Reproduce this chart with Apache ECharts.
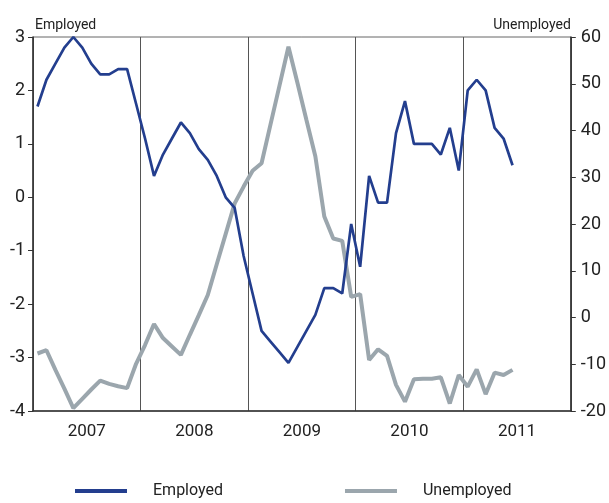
<!DOCTYPE html>
<html>
<head>
<meta charset="utf-8">
<script src="https://cdn.jsdelivr.net/npm/echarts@6/dist/echarts.min.js"></script>
<style>
  html, body { margin: 0; padding: 0; background: #fff; }
  #chart { width: 609px; height: 503px; }
</style>
</head>
<body>
<div id="chart"></div>
<script>
// Monthly change, January 2007 onwards (left axis: employed, right axis: unemployed)
const years = ['2007', '2008', '2009', '2010', '2011'];

const employed = [
  1.7, 2.2, 2.5, 2.8, 3.0, 2.8, 2.5, 2.3, 2.3, 2.4, 2.4, 1.75,
  1.1, 0.4, 0.8, 1.1, 1.4, 1.2, 0.9, 0.7, 0.4, 0.0, -0.2, -1.1,
  -1.8, -2.5, -2.7, -2.9, -3.1, -2.8, -2.5, -2.2, -1.7, -1.7, -1.8, -0.5,
  -1.3, 0.4, -0.1, -0.1, 1.2, 1.8, 1.0, 1.0, 1.0, 0.8, 1.3, 0.5,
  2.0, 2.2, 2.0, 1.3, 1.1, 0.6
];

const unemployed = [
  -7.7, -7.0, -11.2, -15.2, -19.4, -17.4, -15.4, -13.5, -14.2, -14.7, -15.1, -9.9,
  -5.9, -1.4, -4.4, -6.2, -8.0, -3.7, 0.5, 4.8, 11.4, 17.9, 24.4, 28.0,
  31.4, 33.0, 41.3, 49.6, 57.9, 50.2, 42.3, 34.5, 21.6, 16.9, 16.4, 4.4,
  5.0, -9.1, -6.8, -8.2, -14.4, -18.0, -13.2, -13.1, -13.1, -12.8, -18.4, -12.3,
  -14.8, -11.1, -16.4, -11.8, -12.3, -11.2
];

// One category per month across the five years
const months = [];
years.forEach(y => {
  for (let m = 1; m <= 12; m++) months.push(y + '-' + String(m).padStart(2, '0'));
});

const FONT = "Roboto, 'Liberation Sans', sans-serif";
const BLUE = '#233e8e';
const GREY = '#9ba6ad';
const INK = '#222';

const chart = echarts.init(document.getElementById('chart'), null, { renderer: 'canvas' });

chart.setOption({
  animation: false,
  backgroundColor: '#fff',
  grid: {
    left: 33, right: 35, top: 37, bottom: 92,
    show: true, borderColor: '#666', borderWidth: 1
  },
  legend: {
    left: 75, top: 483,
    padding: 0,
    itemGap: 122,
    itemWidth: 52, itemHeight: 4,
    icon: 'rect',
    textStyle: { fontFamily: FONT, fontSize: 16, color: INK, padding: [0, 0, 0, 21] },
    data: ['Employed', 'Unemployed']
  },
  xAxis: [
    {
      type: 'category',
      data: months,
      boundaryGap: true,
      show: false
    },
    {
      type: 'category',
      data: years,
      boundaryGap: true,
      position: 'bottom',
      axisLine: { show: true, onZero: false, lineStyle: { color: '#333', width: 1.5 } },
      axisTick: { show: false },
      axisLabel: { fontFamily: FONT, fontSize: 17, color: INK, margin: 12 },
      splitLine: { show: true, interval: 0, lineStyle: { color: '#555', width: 1 } }
    }
  ],
  yAxis: [
    {
      type: 'value',
      min: -4, max: 3, interval: 1,
      name: 'Employed',
      nameLocation: 'end',
      nameGap: 5,
      nameTextStyle: { fontFamily: FONT, fontSize: 14, color: INK, align: 'left', padding: [0, 0, 0, 2] },
      axisLine: { show: true, onZero: false, lineStyle: { color: '#333', width: 1.5 } },
      axisTick: { show: true, length: 5, lineStyle: { color: '#333' } },
      axisLabel: { fontFamily: FONT, fontSize: 18, color: INK, margin: 8 },
      splitLine: { show: false }
    },
    {
      type: 'value',
      min: -20, max: 60, interval: 10,
      position: 'right',
      name: 'Unemployed',
      nameLocation: 'end',
      nameGap: 5,
      nameTextStyle: { fontFamily: FONT, fontSize: 14, color: INK, align: 'right' },
      axisLine: { show: true, onZero: false, lineStyle: { color: '#333', width: 1.5 } },
      axisTick: { show: true, length: 5, lineStyle: { color: '#333' } },
      axisLabel: { fontFamily: FONT, fontSize: 18, color: INK, margin: 10 },
      splitLine: { show: false }
    }
  ],
  series: [
    {
      name: 'Unemployed',
      type: 'line',
      xAxisIndex: 0,
      yAxisIndex: 1,
      data: unemployed,
      symbol: 'none',
      color: GREY,
      lineStyle: { color: GREY, width: 4 },
      z: 2
    },
    {
      name: 'Employed',
      type: 'line',
      xAxisIndex: 0,
      yAxisIndex: 0,
      data: employed,
      symbol: 'none',
      color: BLUE,
      lineStyle: { color: BLUE, width: 2.7 },
      z: 3
    }
  ]
});
</script>
</body>
</html>
